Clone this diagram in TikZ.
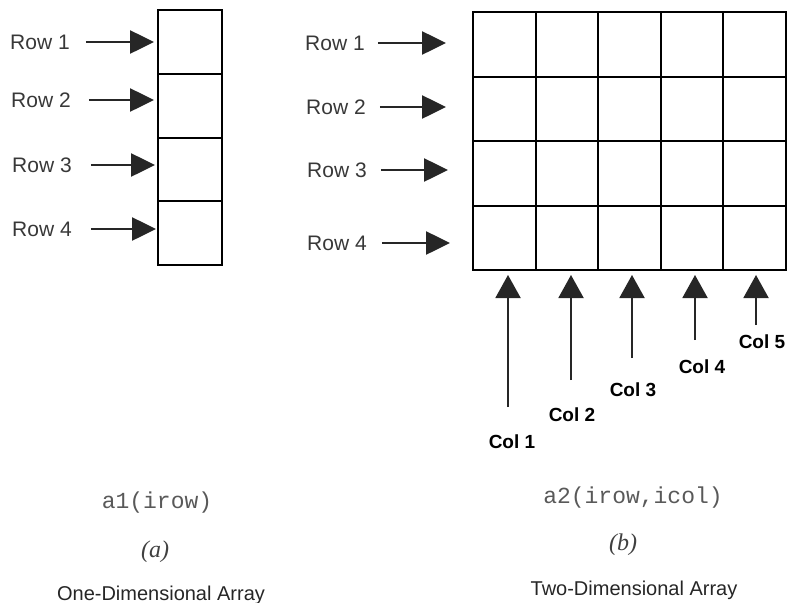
\documentclass[tikz,border=0pt]{standalone}
\usepackage{fontspec}
\setmainfont{Liberation Sans}
\setmonofont{Liberation Mono}
\newfontfamily\capserif{Liberation Serif}
\usetikzlibrary{arrows.meta,positioning}

\begin{document}
\begin{tikzpicture}[x=1pt,y=-1pt,
  cell/.style={draw,line width=2pt,minimum width=64pt,minimum height=63.75pt,inner sep=0pt,outer sep=0pt},
  gcell/.style={cell,minimum width=62.6pt,minimum height=64.5pt},
  row label/.style={font=\fontsize{21}{21}\selectfont,text=black!78,inner sep=0pt},
  col label/.style={font=\fontsize{19}{19}\selectfont\bfseries,inner sep=0pt},
  code label/.style={font=\fontsize{23}{23}\ttfamily,text=black!65,inner sep=0pt},
  part label/.style={font=\fontsize{24}{24}\capserif\itshape,text=black!75,inner sep=0pt},
  title label/.style={font=\fontsize{20}{20}\selectfont,text=black!85,inner sep=0pt},
  row arrow/.style={-{Triangle[length=24pt,width=23pt]},line width=2.6pt,black!85},
  col arrow/.style={-{Triangle[length=23pt,width=25pt]},line width=2pt,black!85}]

  \useasboundingbox (0,0) rectangle (788,603);

  % one-dimensional array
  \node[cell] (a1) at (190,41.9) {};
  \node[cell] (a2) [below=0pt of a1] {};
  \node[cell] (a3) [below=0pt of a2] {};
  \node[cell] (a4) [below=0pt of a3] {};

  \node[row label] (l1) at (40,42) {Row 1};
  \node[row label] (l2) at (41,100) {Row 2};
  \node[row label] (l3) at (42,165) {Row 3};
  \node[row label] (l4) at (42,229) {Row 4};

  \draw[row arrow,shorten <=16pt,shorten >=4pt] (l1.east) -- (l1.east -| a1.west);
  \draw[row arrow,shorten <=18pt,shorten >=4pt] (l2.east) -- (l2.east -| a2.west);
  \draw[row arrow,shorten <=19pt,shorten >=3pt] (l3.east) -- (l3.east -| a3.west);
  \draw[row arrow,shorten <=19pt,shorten >=2pt] (l4.east) -- (l4.east -| a4.west);

  % two-dimensional array
  \foreach \r in {1,...,4}
    \foreach \c in {1,...,5}
      \node[gcell] (g\r\c) at ({473+62.6*(\c-0.5)},{12+64.5*(\r-0.5)}) {};

  \node[row label] (r1) at (335,43) {Row 1};
  \node[row label] (r2) at (336,107) {Row 2};
  \node[row label] (r3) at (337,170) {Row 3};
  \node[row label] (r4) at (337,243) {Row 4};

  \draw[row arrow,shorten <=13pt,shorten >=27pt] (r1.east) -- (r1.east -| g11.west);
  \draw[row arrow,shorten <=14pt,shorten >=27pt] (r2.east) -- (r2.east -| g21.west);
  \draw[row arrow,shorten <=14pt,shorten >=25pt] (r3.east) -- (r3.east -| g31.west);
  \draw[row arrow,shorten <=15pt,shorten >=23pt] (r4.east) -- (r4.east -| g41.west);

  \coordinate (t1) at (508,407);
  \coordinate (t2) at (571,380);
  \coordinate (t3) at (632,358);
  \coordinate (t4) at (695,340);
  \coordinate (t5) at (756,325);

  \draw[col arrow,shorten >=5pt] (t1) -- (t1 |- g41.south);
  \draw[col arrow,shorten >=5pt] (t2) -- (t2 |- g42.south);
  \draw[col arrow,shorten >=5pt] (t3) -- (t3 |- g43.south);
  \draw[col arrow,shorten >=5pt] (t4) -- (t4 |- g44.south);
  \draw[col arrow,shorten >=5pt] (t5) -- (t5 |- g45.south);

  \node[col label] (c1) at (512,442) {Col 1};
  \node[col label] (c2) at (572,415) {Col 2};
  \node[col label] (c3) at (633,390) {Col 3};
  \node[col label] (c4) at (702,367) {Col 4};
  \node[col label] (c5) at (762,342) {Col 5};

  % captions
  \node[code label] (ca) at (157,503) {a1(irow)};
  \node[part label] (pa) at (155,552) {(a)};
  \node[title label] (na) at (161,595) {One-Dimensional Array};

  \node[code label] (cb) at (633,498) {a2(irow,icol)};
  \node[part label] (pb) at (623,545) {(b)};
  \node[title label] (nb) at (634,590) {Two-Dimensional Array};
\end{tikzpicture}
\end{document}
